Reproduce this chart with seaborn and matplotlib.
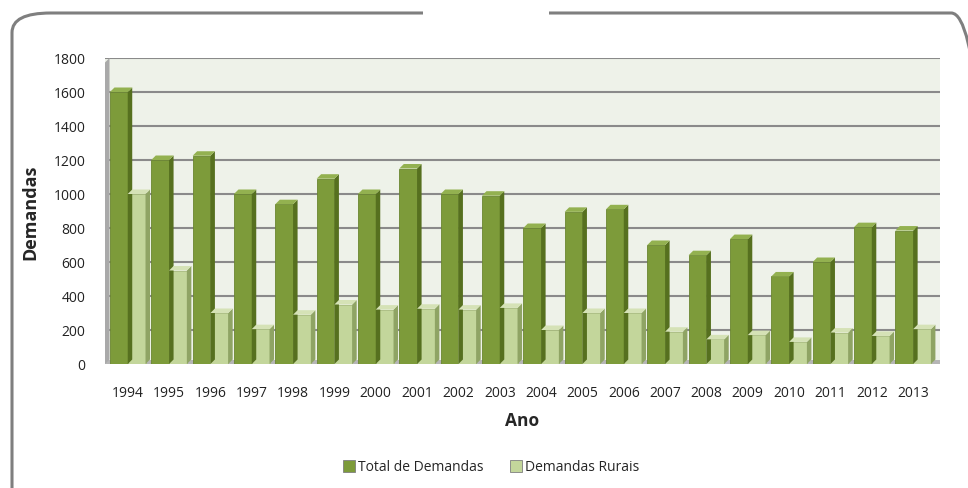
import matplotlib
matplotlib.use("Agg")
import matplotlib.pyplot as plt
import seaborn as sns
import pandas as pd
import numpy as np
from matplotlib.patches import Polygon, FancyBboxPatch, Rectangle
from matplotlib.lines import Line2D

years = ["1994", "1995", "1996", "1997", "1998", "1999", "2000", "2001", "2002", "2003",
         "2004", "2005", "2006", "2007", "2008", "2009", "2010", "2011", "2012", "2013"]
total = [1600, 1200, 1225, 1000, 940, 1090, 1000, 1150, 1000, 990,
         800, 895, 910, 700, 640, 735, 515, 600, 805, 785]
rurais = [1000, 550, 300, 205, 290, 350, 320, 325, 320, 330,
          200, 300, 300, 190, 145, 170, 130, 185, 165, 205]
series = ["Total de Demandas", "Demandas Rurais"]
yticks = [0, 200, 400, 600, 800, 1000, 1200, 1400, 1600, 1800]

face = {"Total de Demandas": "#7d9b3a", "Demandas Rurais": "#c3d69b"}
side = {"Total de Demandas": "#56701f", "Demandas Rurais": "#8fa464"}
top = {"Total de Demandas": "#93b150", "Demandas Rurais": "#d5e2b6"}

df = pd.DataFrame({
    "Ano": years * 2,
    "Demandas": total + rurais,
    "Serie": [series[0]] * len(years) + [series[1]] * len(years),
})

sns.set_theme(style="white")
plt.rcParams['font.family'] = ['Open Sans', 'DejaVu Sans']

W, H = 968, 489
fig = plt.figure(figsize=(W / 100, H / 100), dpi=100)
ax_l, ax_r, ax_b, ax_t = 105, 940, 365, 59
ax = fig.add_axes([ax_l / W, 1 - ax_b / H, (ax_r - ax_l) / W, (ax_b - ax_t) / H])
ax.set_facecolor("#eef2e9")

sns.barplot(data=df, x="Ano", y="Demandas", hue="Serie", hue_order=series,
            palette=face, saturation=1, width=0.86, dodge=True, ax=ax, legend=False,
            edgecolor="none", zorder=3)

ax.set_xlim(-0.55, 19.65)
ax.set_ylim(0, 1800)
ax.set_yticks(yticks)
ax.set_yticklabels([str(v) for v in yticks], fontsize=10, color="#222222")
ax.tick_params(axis="x", labelsize=10, colors="#222222", pad=15, length=0)
ax.tick_params(axis="y", pad=14, length=0)
ax.yaxis.grid(True, color="#8a8a8a", linewidth=1.5, zorder=0)
ax.set_axisbelow(True)
for s in ax.spines.values():
    s.set_visible(False)
ax.set_xlabel("Ano", fontsize=12.5, fontweight="bold", labelpad=8)
ax.set_ylabel("Demandas", fontsize=13, fontweight="bold", labelpad=10)

# 3D-like side and top faces built from the bar patches
fig.canvas.draw()
inv = ax.transData.inverted()
o = ax.transData.transform((0, 0))
d = inv.transform(o + np.array([4.5, 4.5]))
dx, dy = d[0] - 0, d[1] - 0
bars = [p for p in ax.patches if isinstance(p, Rectangle)]
nb = len(years)
for i, p in enumerate(bars[:2 * nb]):
    s = series[0] if i < nb else series[1]
    x0, w, h = p.get_x(), p.get_width(), p.get_height()
    ax.add_patch(Polygon([(x0 + w, 0), (x0 + w + dx, dy), (x0 + w + dx, h + dy), (x0 + w, h)],
                         closed=True, facecolor=side[s], edgecolor="none", zorder=3))
    ax.add_patch(Polygon([(x0, h), (x0 + dx, h + dy), (x0 + w + dx, h + dy), (x0 + w, h)],
                         closed=True, facecolor=top[s], edgecolor="none", zorder=3))
    p.set_edgecolor("#6a8630" if i < nb else "#a6ba7c")
    p.set_linewidth(0.6)

# floor and left wall
ax.add_patch(Polygon([(-0.55, 0), (19.65, 0), (19.65, dy), (-0.55, dy)], closed=True,
                     facecolor="#b5b5b5", edgecolor="none", zorder=2, clip_on=False))
ax.add_patch(Polygon([(-0.55, 0), (-0.55 + dx, dy), (-0.55 + dx, 1800), (-0.55, 1800 - dy)],
                     closed=True, facecolor="#a9a9a9", edgecolor="none", zorder=2))

# legend
handles = [Line2D([0], [0], marker="s", linestyle="none", markersize=8,
                  markerfacecolor=face[s], markeredgecolor="#7f7f7f", markeredgewidth=0.6)
           for s in series]
fig.legend(handles, series, loc="center", bbox_to_anchor=(490 / W, 1 - 468 / H),
           ncol=2, frameon=False, fontsize=10, handletextpad=0.05, columnspacing=1.8,
           handlelength=1.2)

# outer rounded frame with top gap
frame = FancyBboxPatch((12 / W, -0.05), (990 - 12) / W, (H - 14) / H + 0.05,
                       boxstyle="round,pad=0,rounding_size=0.04", transform=fig.transFigure,
                       facecolor="none", edgecolor="#7f7f7f", linewidth=2.2, zorder=0)
fig.patches.append(frame)
fig.patches.append(Rectangle((423 / W, 1 - 20 / H), (549 - 423) / W, 12 / H,
                             transform=fig.transFigure, facecolor="white",
                             edgecolor="none", zorder=1))

fig.savefig("out.png", dpi=100)
